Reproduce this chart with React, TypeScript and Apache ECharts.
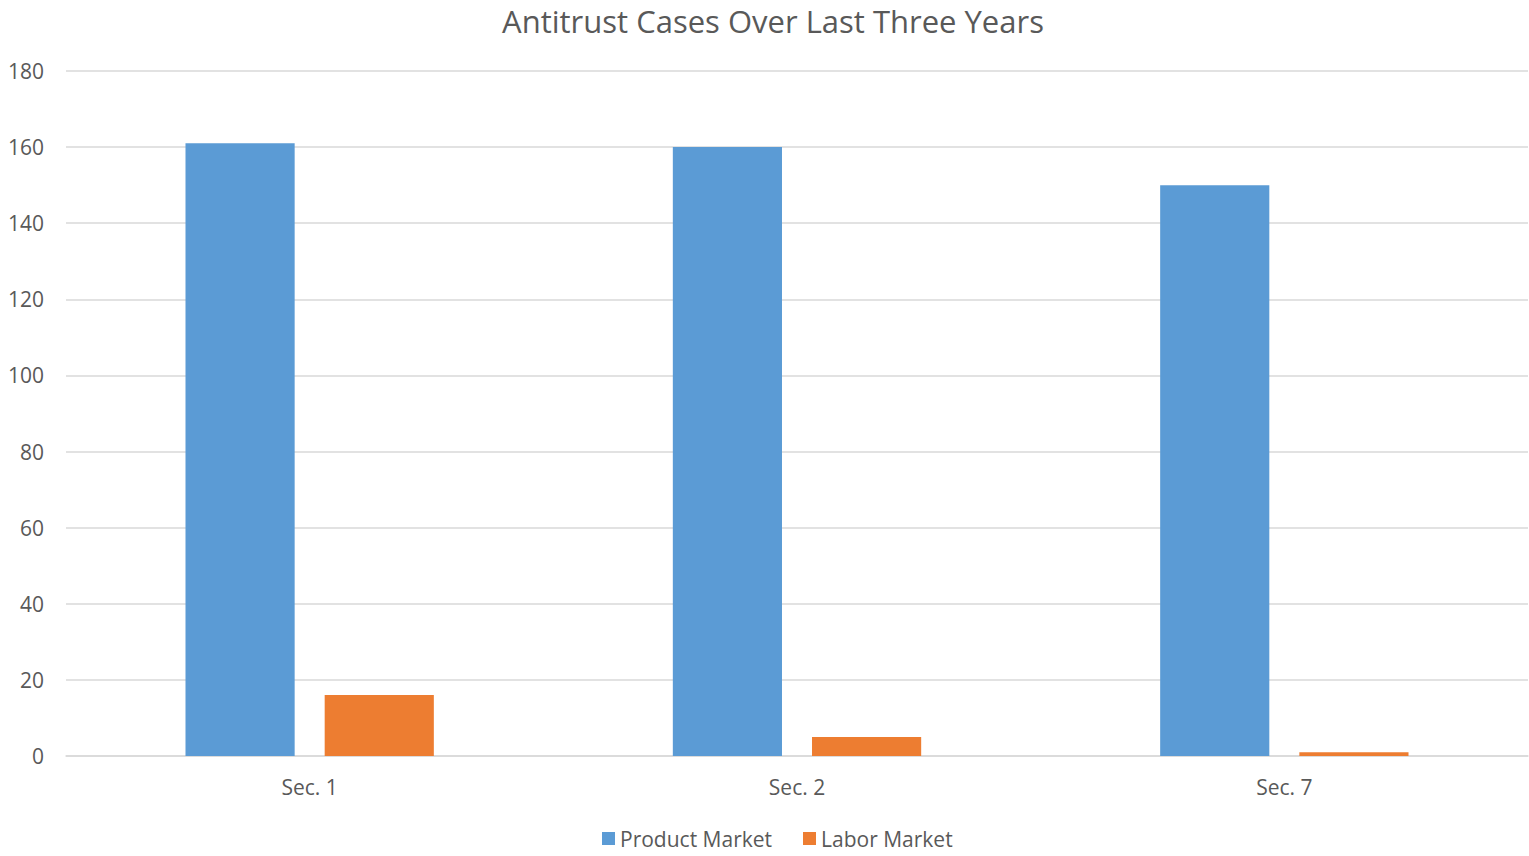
import React, { useEffect, useRef } from "react";
import * as echarts from "echarts";

const categories = ["Sec. 1", "Sec. 2", "Sec. 7"];
const productMarket = [161, 160, 150];
const laborMarket = [16, 5, 1];
const seriesNames = ["Product Market", "Labor Market"];

const FONT = "'Open Sans', 'Noto Sans', sans-serif";
const TXT = "#595959";

export default function App() {
  const ref = useRef<HTMLDivElement>(null);
  useEffect(() => {
    const chart = echarts.init(ref.current!, undefined, { renderer: "svg" });
    chart.setOption({
      animation: false,
      backgroundColor: "#ffffff",
      title: {
        text: "Antitrust Cases Over Last Three Years",
        left: 773,
        textAlign: "center",
        top: 5,
        padding: 0,
        textStyle: { fontFamily: FONT, fontSize: 31, lineHeight: 31, fontWeight: "normal", color: TXT },
      },
      legend: {
        bottom: 2,
        left: 597,
        itemWidth: 13,
        itemHeight: 13,
        itemGap: 31,
        icon: "rect",
        textStyle: { fontFamily: FONT, fontSize: 21, color: TXT },
        data: seriesNames,
      },
      grid: { left: 66, right: 1, top: 71, bottom: 100, containLabel: false },
      xAxis: {
        type: "category",
        data: categories,
        axisLine: { lineStyle: { color: "#d9d9d9", width: 1.5 } },
        axisTick: { show: false },
        axisLabel: { fontFamily: FONT, fontSize: 21, color: TXT, margin: 20 },
      },
      yAxis: {
        type: "value",
        min: 0,
        max: 180,
        interval: 20,
        axisLine: { show: false },
        axisTick: { show: false },
        splitLine: { lineStyle: { color: "#d9d9d9", width: 1.5 } },
        axisLabel: { fontFamily: FONT, fontSize: 21, color: TXT, margin: 22 },
      },
      series: [
        {
          name: seriesNames[0],
          type: "bar",
          data: productMarket,
          barWidth: "22.4%",
          barGap: "27.5%",
          itemStyle: { color: "#5b9bd5" },
        },
        {
          name: seriesNames[1],
          type: "bar",
          data: laborMarket,
          barWidth: "22.4%",
          barGap: "27.5%",
          itemStyle: { color: "#ed7d31" },
        },
      ],
    });
    return () => chart.dispose();
  }, []);
  return <div ref={ref} style={{ width: 1529, height: 856, position: "absolute", left: 0, top: 0 }} />;
}
